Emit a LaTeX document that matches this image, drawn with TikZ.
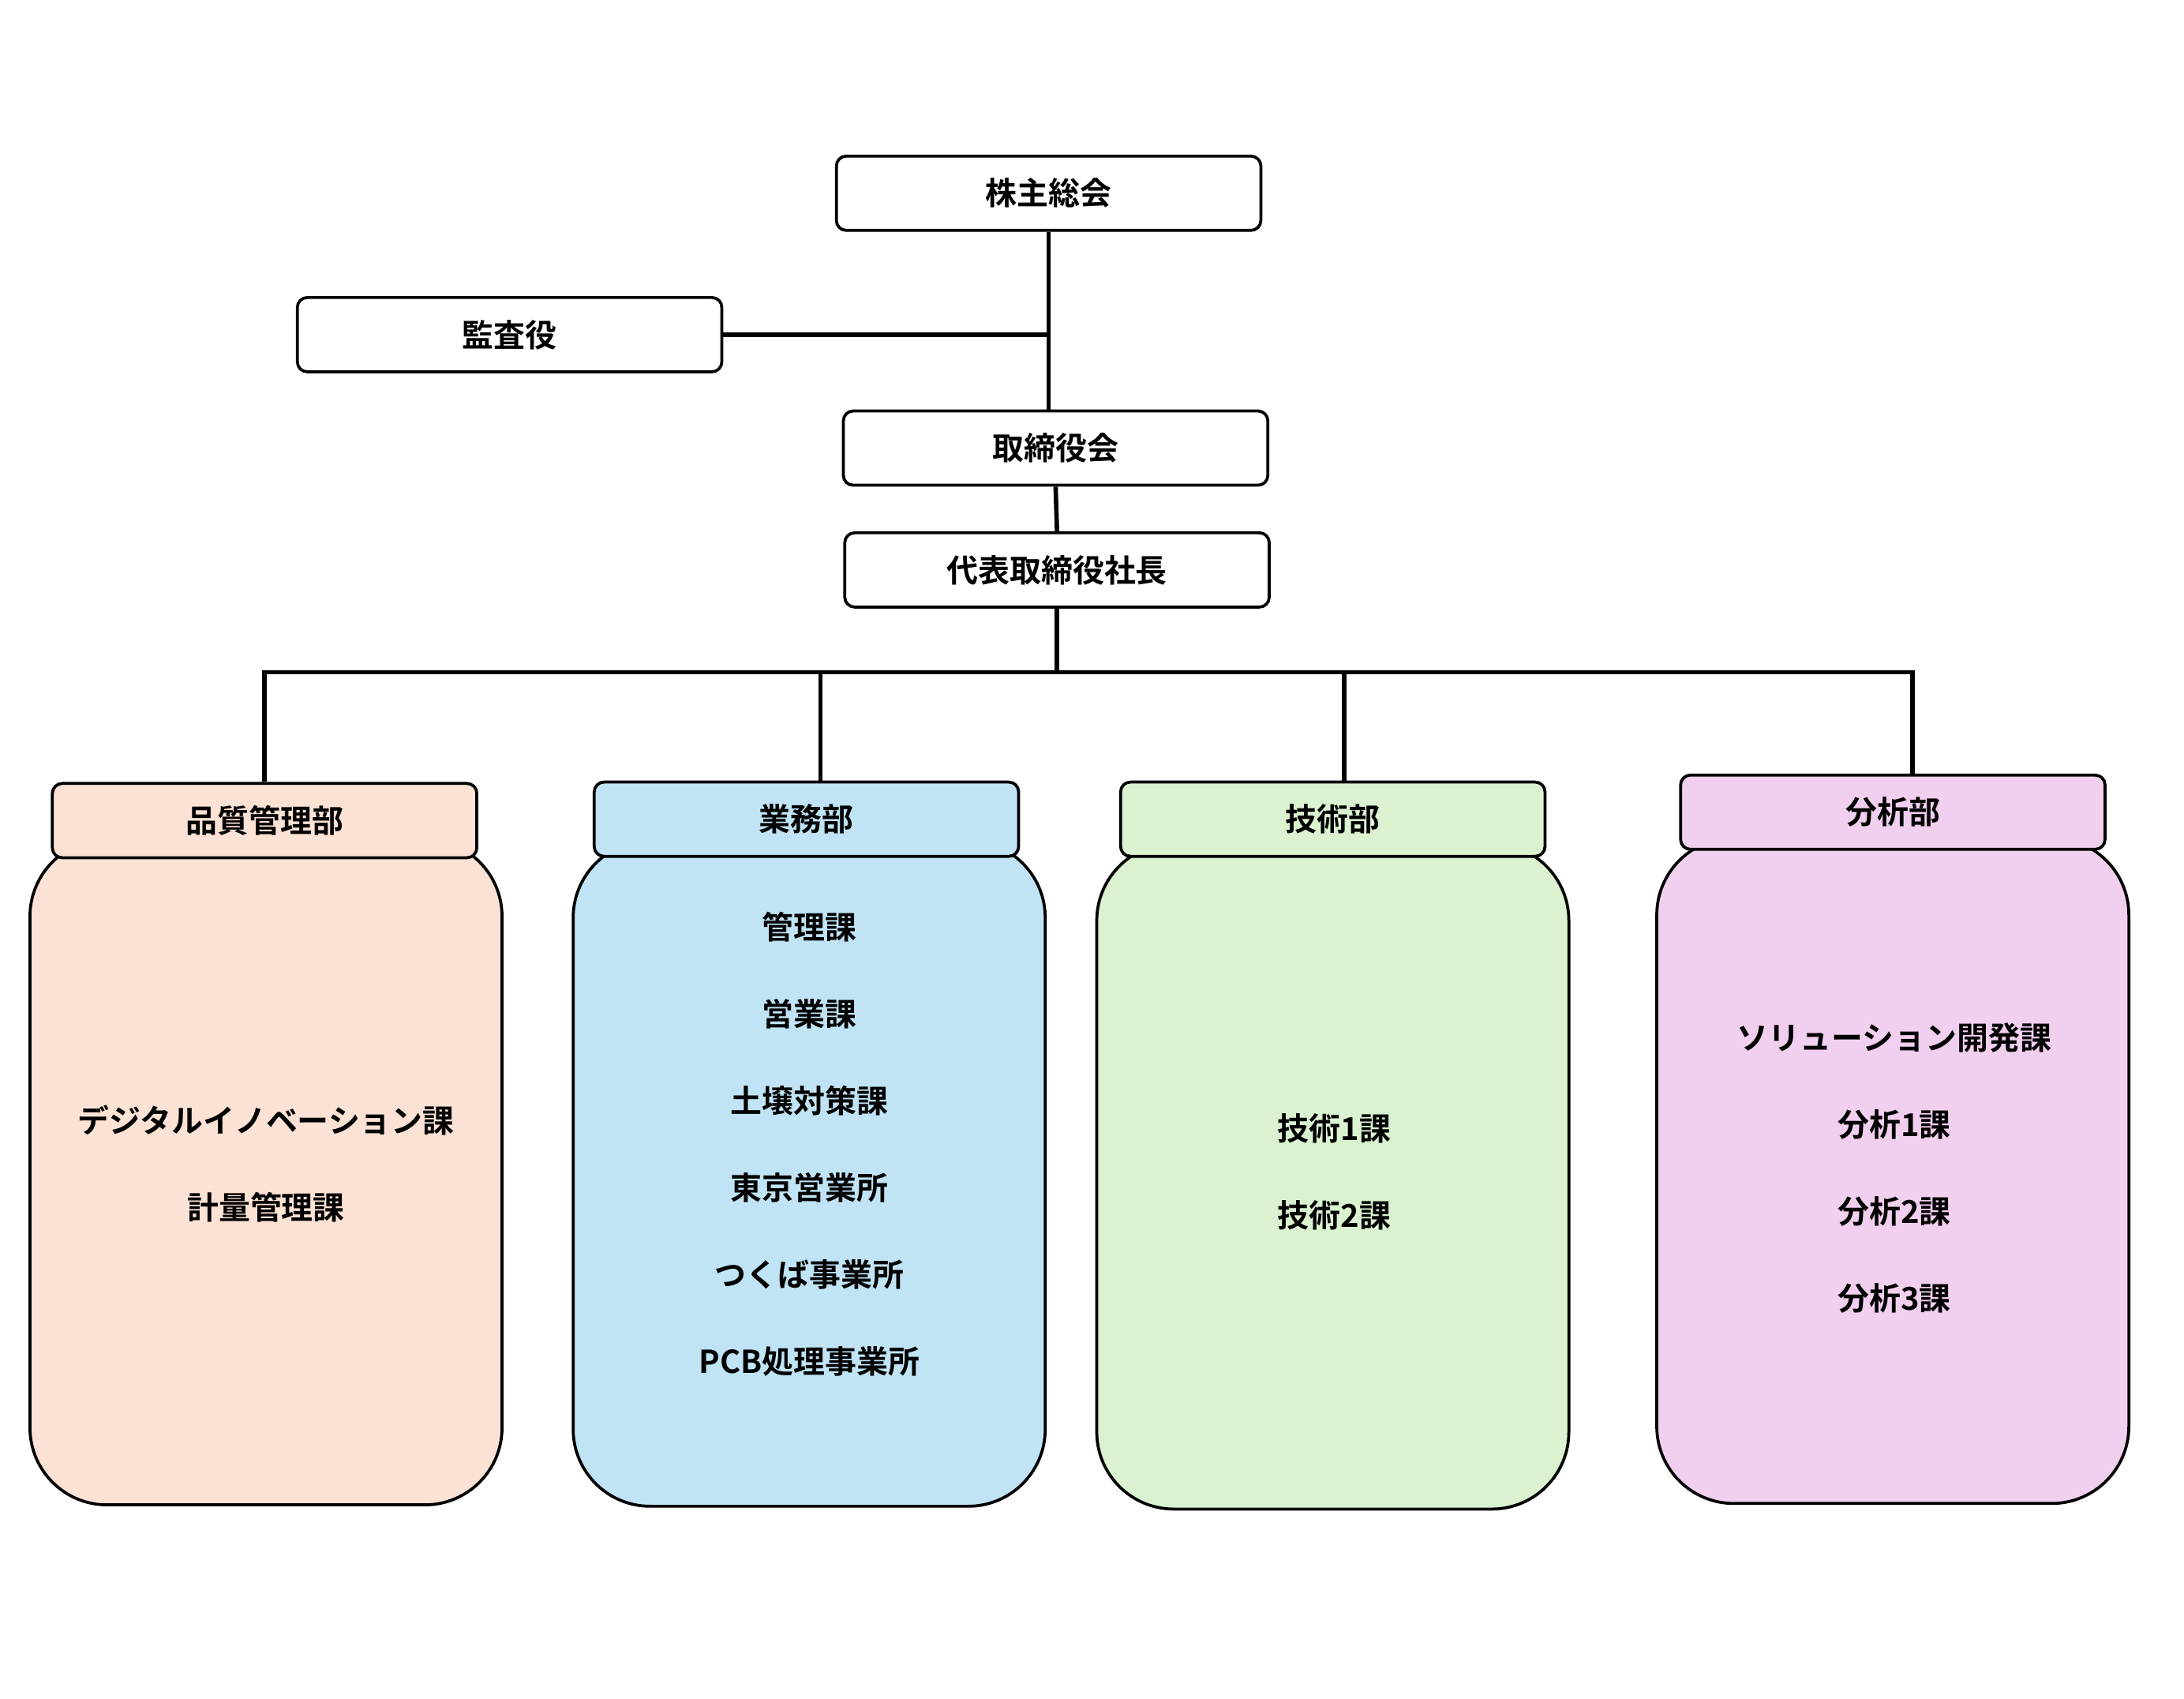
\documentclass[tikz,border=0pt]{standalone}
\usepackage{fontspec}
\setmainfont{Noto Sans CJK JP}[BoldFont={Noto Sans CJK JP Bold}]
\usetikzlibrary{positioning}
\definecolor{peach}{RGB}{252, 226, 212}
\definecolor{sky}{RGB}{192, 228, 245}
\definecolor{mint}{RGB}{218, 242, 208}
\definecolor{orchid}{RGB}{241, 207, 238}
\tikzset{%
    topbox/.style={draw, fill=white, line width=0.6pt, rounded corners=2pt,
        minimum width=3.03cm, minimum height=0.53cm, font=\fontsize{6.4}{8}\selectfont\bfseries},
    head/.style={topbox, fill=#1},
    body/.style={draw, fill=#1, line width=0.6pt, rounded corners=0.55cm,
        minimum width=3.37cm, minimum height=4.75cm},
    item/.style={font=\fontsize{6.4}{8}\selectfont\bfseries},
    link/.style={line width=0.9pt}
}
\begin{document}
\begin{tikzpicture}[x=0.01cm, y=-0.01cm]
    \useasboundingbox (0, 0) rectangle (1560, 1213);

    % Top
    \node[topbox] (soukai) at (749, 138) {株主総会};
    \node[topbox] (kansa) at (364, 239) {監査役};
    \node[topbox] (torishimari) at (754, 320) {取締役会};
    \node[topbox] (shacho) at (755, 407) {代表取締役社長};

    \draw[link] (soukai.south) -- (soukai.south |- torishimari.north);
    \draw[link] (kansa.east) -- (kansa.east -| soukai.south);
    \draw[link] (torishimari.south) -- (shacho.north);

    % Bodies
    \node[body=peach] (hinshitsu-b) at (190, 837) {};
    \node[body=sky] (gyomu-b) at (578, 838) {};
    \node[body=mint] (gijutsu-b) at (952, 840) {};
    \node[body=orchid] (bunseki-b) at (1352, 836) {};

    % Heads
    \node[head=peach] (hinshitsu) at (189, 586) {品質管理部};
    \node[head=sky] (gyomu) at (576, 585) {業務部};
    \node[head=mint] (gijutsu) at (952, 585) {技術部};
    \node[head=orchid] (bunseki) at (1352, 580) {分析部};

    \coordinate (bus) at (749, 480);
    \draw[link] (shacho.south) -- (shacho.south |- bus);
    \draw[link] (hinshitsu.north) -- (hinshitsu.north |- bus)
        -- (1366, 480) -- (1366, 554);
    \draw[link] (586, 480) -- (586, 559);
    \draw[link] (960, 480) -- (960, 559);

    % Items
    \node[item] (h1) at (190, 800) {デジタルイノベーション課};
    \node[item] (h2) at (190, 862) {計量管理課};

    \foreach \txt [count=\i] in {管理課, 営業課, 土壌対策課, 東京営業所, つくば事業所, PCB処理事業所}{%
        \node[item] (g\i) at (578, {600 + \i*62}) {\txt};
    };

    \node[item] (t1) at (953, 806) {技術1課};
    \node[item] (t2) at (953, 868) {技術2課};

    \foreach \txt [count=\i] in {ソリューション開発課, 分析1課, 分析2課, 分析3課}{%
        \node[item] (b\i) at (1353, {679 + \i*62}) {\txt};
    };

\end{tikzpicture}
\end{document}
